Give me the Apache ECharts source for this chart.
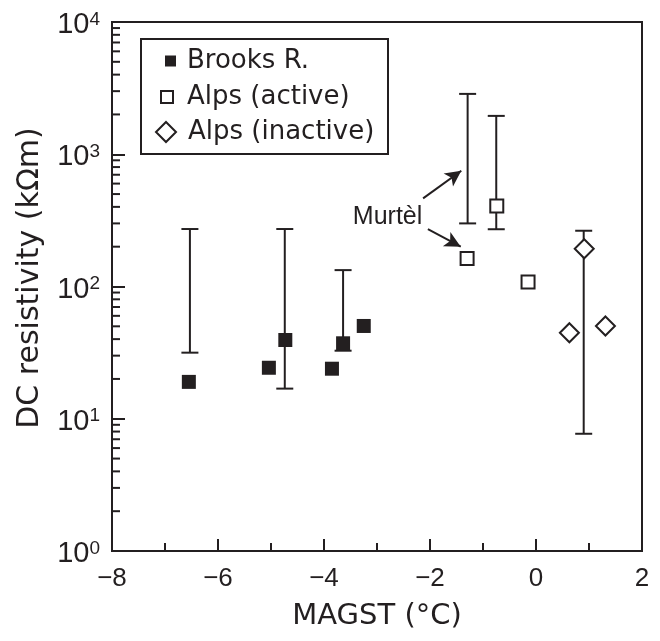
<!DOCTYPE html>
<html>
<head>
<meta charset="utf-8">
<script src="https://cdn.jsdelivr.net/npm/echarts@6/dist/echarts.min.js"></script>
<style>
  html, body { margin: 0; padding: 0; background: #fff; }
  #chart { width: 660px; height: 641px; }
</style>
</head>
<body>
<div id="chart"></div>
<script>
// MAGST (deg C) vs DC resistivity (kOhm m)
const brooksX = [-6.55, -5.04, -4.73, -3.85, -3.64, -3.25];
const brooksY = [19.0, 24.3, 39.4, 23.9, 37.2, 50.3];

const activeX = [-1.30, -0.74, -0.15];
const activeY = [163, 406, 108];

const inactiveX = [0.63, 0.91, 1.31];
const inactiveY = [44.7, 193, 50.3];

// error ranges (drawn separately, as in the figure)
const errX = [-6.53, -4.74, -3.64, -1.29, -0.75, 0.90];
const errLow = [31.6, 16.9, 32.7, 300, 271, 7.7];
const errHigh = [272, 272, 133, 2860, 1950, 264];

const yDecades = [1, 10, 100, 1000, 10000];

const ink = '#231f20';
const pairs = (xs, ys) => xs.map((x, i) => [x, ys[i]]);

// minor ticks 2..9 in every decade
const minorVals = [];
for (let d = 0; d < yDecades.length - 1; d++) {
  for (let k = 2; k <= 9; k++) minorVals.push([-8, k * yDecades[d]]);
}

const chart = echarts.init(document.getElementById('chart'));

const option = {
  animation: false,
  grid: {
    left: 112, right: 18, top: 22, bottom: 90,
    outerBoundsMode: 'none', containLabel: false,
    show: true, borderColor: ink, borderWidth: 2
  },
  legend: [
    {
      data: ['Brooks R.'], orient: 'vertical', left: 165, top: 46, padding: 0,
      itemWidth: 11, itemHeight: 11,
      textStyle: { fontFamily: 'DejaVu Sans', fontSize: 26, color: ink, lineHeight: 30, padding: [0, 0, 0, 6] }
    },
    {
      data: ['Alps (active)'], orient: 'vertical', left: 160, top: 82, padding: 0,
      itemWidth: 12, itemHeight: 12,
      textStyle: { fontFamily: 'DejaVu Sans', fontSize: 26, color: ink, lineHeight: 30, padding: [0, 0, 0, 9] }
    },
    {
      data: ['Alps (inactive)'], orient: 'vertical', left: 155, top: 117, padding: 0,
      itemWidth: 20, itemHeight: 20,
      textStyle: { fontFamily: 'DejaVu Sans', fontSize: 26, color: ink, lineHeight: 30, padding: [0, 0, 0, 7] }
    }
  ],
  graphic: [
    {
      type: 'rect', left: 140, top: 38, z: 50,
      shape: { width: 247, height: 115 },
      style: { fill: 'transparent', stroke: ink, lineWidth: 2 }
    }
  ],
  xAxis: {
    type: 'value', min: -8, max: 2, interval: 2,
    name: 'MAGST (°C)', nameLocation: 'middle', nameGap: 51,
    nameTextStyle: { fontFamily: 'DejaVu Sans', fontSize: 29, color: ink },
    axisLine: { onZero: false, lineStyle: { color: ink, width: 2 } },
    axisTick: { inside: true, length: 12, lineStyle: { color: ink, width: 2 } },
    minorTick: { show: true, splitNumber: 2, length: 8, lineStyle: { color: ink, width: 2 } },
    splitLine: { show: false },
    axisLabel: {
      fontFamily: 'Liberation Sans', fontSize: 26, color: ink, margin: 15,
      formatter: v => (v < 0 ? '\u2212' + (-v) : '' + v)
    }
  },
  yAxis: {
    type: 'log', logBase: 10, min: 1, max: 10000,
    name: 'DC resistivity (kΩm)', nameLocation: 'middle', nameGap: 67,
    nameTextStyle: { fontFamily: 'DejaVu Sans', fontSize: 30, color: ink, padding: [0, 0, 0, 17] },
    axisLine: { onZero: false, lineStyle: { color: ink, width: 2 } },
    axisTick: { inside: true, length: 13, lineStyle: { color: ink, width: 2 } },
    splitLine: { show: false },
    axisLabel: {
      margin: 12, padding: [6, 0, 0, 0],
      formatter: v => '{b|10}{s|' + Math.round(Math.log10(v)) + '}',
      rich: {
        b: { fontFamily: 'Liberation Sans', fontSize: 29, color: ink, lineHeight: 30 },
        s: { fontFamily: 'Liberation Sans', fontSize: 19, color: ink, verticalAlign: 'top', lineHeight: 30 }
      }
    }
  },
  series: [
    {
      name: 'minorTicks', type: 'custom', silent: true, clip: false, z: 3,
      data: minorVals,
      encode: { x: 0, y: 1 },
      renderItem: (params, api) => {
        const p = api.coord([api.value(0), api.value(1)]);
        return {
          type: 'line',
          shape: { x1: p[0], y1: p[1], x2: p[0] + 8, y2: p[1] },
          style: { stroke: ink, lineWidth: 2 }
        };
      }
    },
    {
      name: 'errors', type: 'custom', silent: true, z: 2,
      data: errX.map((x, i) => [x, errLow[i], errHigh[i]]),
      encode: { x: 0, y: [1, 2] },
      renderItem: (params, api) => {
        const x = api.value(0);
        const top = api.coord([x, api.value(2)]);
        const bot = api.coord([x, api.value(1)]);
        const hw = 8.5;
        const st = { stroke: ink, lineWidth: 2 };
        return {
          type: 'group',
          children: [
            { type: 'line', shape: { x1: top[0], y1: top[1], x2: bot[0], y2: bot[1] }, style: st },
            { type: 'line', shape: { x1: top[0] - hw, y1: top[1], x2: top[0] + hw, y2: top[1] }, style: st },
            { type: 'line', shape: { x1: bot[0] - hw, y1: bot[1], x2: bot[0] + hw, y2: bot[1] }, style: st }
          ]
        };
      }
    },
    {
      name: 'Brooks R.', type: 'scatter', z: 5,
      symbol: 'rect', symbolSize: 14,
      itemStyle: { color: ink, opacity: 1 },
      data: pairs(brooksX, brooksY)
    },
    {
      name: 'Alps (active)', type: 'scatter', z: 5,
      symbol: 'rect', symbolSize: 13,
      itemStyle: { color: '#fff', borderColor: ink, borderWidth: 2, opacity: 1 },
      data: pairs(activeX, activeY),
      markLine: {
        silent: true, animation: false,
        symbol: ['none', 'arrow'], symbolSize: [12, 16],
        lineStyle: { color: ink, width: 2, type: 'solid' },
        label: { show: false },
        data: [
          [{ coord: [-2.13, 464] }, { coord: [-1.41, 751] }],
          [{ coord: [-2.04, 271] }, { coord: [-1.42, 200] }]
        ]
      },
      markPoint: {
        silent: true, animation: false,
        symbol: 'circle', symbolSize: 0,
        label: {
          show: true, position: 'inside', formatter: 'Murtèl',
          fontFamily: 'Liberation Sans', fontSize: 25, color: ink
        },
        data: [{ coord: [-2.80, 335] }]
      }
    },
    {
      name: 'Alps (inactive)', type: 'scatter', z: 5,
      symbol: 'diamond', symbolSize: 19,
      itemStyle: { color: '#fff', borderColor: ink, borderWidth: 2, opacity: 1 },
      data: pairs(inactiveX, inactiveY)
    }
  ]
};

chart.setOption(option);
</script>
</body>
</html>
